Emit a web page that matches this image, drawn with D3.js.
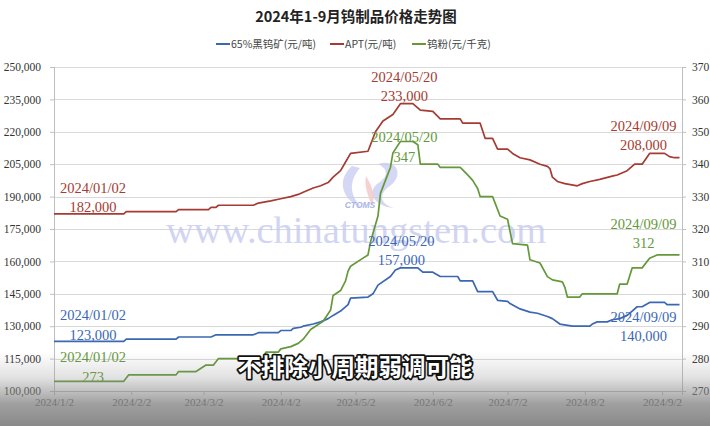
<!DOCTYPE html>
<html>
<head>
<meta charset="utf-8">
<script src="https://cdn.jsdelivr.net/npm/d3@7"></script>
<style>
html,body{margin:0;padding:0;background:#fff;}
svg{display:block;}
</style>
</head>
<body>
<div id="chart"></div>
<script>
// ---------------- data ----------------
const chartTitle = "2024年1-9月钨制品价格走势图";
const seriesNames = ["65%黑钨矿(元/吨)", "APT(元/吨)", "钨粉(元/千克)"];
const seriesColors = ["#3b67b3", "#a53b32", "#64993a"];
const xTickLabels = ["2024/1/2","2024/2/2","2024/3/2","2024/4/2","2024/5/2","2024/6/2","2024/7/2","2024/8/2","2024/9/2"];
const leftTicks = [100000,115000,130000,145000,160000,175000,190000,205000,220000,235000,250000];
const rightTicks = [270,280,290,300,310,320,330,340,350,360,370];

// 65% wolframite concentrate (yuan/ton) – left axis
const oreData = [
 ["2024-01-02",123000],["2024-01-30",123000],["2024-01-31",124000],["2024-02-20",124000],
 ["2024-02-21",125000],["2024-03-05",125000],["2024-03-07",126000],["2024-03-22",126000],
 ["2024-03-24",127000],["2024-04-01",127000],["2024-04-02",128000],["2024-04-06",128000],
 ["2024-04-07",129000],["2024-04-10",129500],["2024-04-11",130000],["2024-04-15",131000],
 ["2024-04-18",132000],["2024-04-21",133500],["2024-04-23",135000],["2024-04-26",137000],
 ["2024-04-29",140000],["2024-04-30",143000],["2024-05-07",143500],["2024-05-09",145000],
 ["2024-05-11",149000],["2024-05-16",153000],["2024-05-18",156000],["2024-05-20",157000],
 ["2024-05-27",157000],["2024-05-28",156000],["2024-05-29",155000],["2024-06-02",155000],
 ["2024-06-05",153000],["2024-06-12",153000],["2024-06-13",151000],["2024-06-18",151000],
 ["2024-06-20",146000],["2024-06-26",146000],["2024-06-28",142000],["2024-07-02",141500],
 ["2024-07-03",140500],["2024-07-07",138000],["2024-07-11",136500],["2024-07-14",136000],
 ["2024-07-18",134500],["2024-07-20",133500],["2024-07-23",131000],["2024-07-28",130000],
 ["2024-08-04",130000],["2024-08-05",131000],["2024-08-07",132000],["2024-08-11",132000],
 ["2024-08-13",133000],["2024-08-16",133500],["2024-08-19",135000],["2024-08-21",137000],
 ["2024-08-23",139000],["2024-08-25",139000],["2024-08-28",141000],["2024-09-03",141000],
 ["2024-09-04",140000],["2024-09-09",140000]
];
// APT (yuan/ton) – left axis
const aptData = [
 ["2024-01-02",182000],["2024-01-30",182000],["2024-01-31",183000],["2024-02-20",183000],
 ["2024-02-21",184000],["2024-03-04",184000],["2024-03-05",185000],["2024-03-07",185000],
 ["2024-03-08",186000],["2024-03-22",186000],["2024-03-24",187000],["2024-03-29",188000],
 ["2024-04-02",189000],["2024-04-06",190000],["2024-04-09",191000],["2024-04-11",192000],
 ["2024-04-15",194000],["2024-04-18",195000],["2024-04-21",196500],["2024-04-23",199000],
 ["2024-04-26",202000],["2024-04-28",206000],["2024-04-30",210000],["2024-05-07",211000],
 ["2024-05-08",214000],["2024-05-10",220000],["2024-05-13",225000],["2024-05-17",228000],
 ["2024-05-20",233000],["2024-05-25",233000],["2024-05-28",230000],["2024-06-02",229500],
 ["2024-06-05",226000],["2024-06-13",226000],["2024-06-14",224000],["2024-06-21",224000],
 ["2024-06-23",217000],["2024-06-26",217000],["2024-06-28",212000],["2024-07-02",212000],
 ["2024-07-04",210000],["2024-07-07",208000],["2024-07-11",207000],["2024-07-15",205000],
 ["2024-07-18",204000],["2024-07-19",203000],["2024-07-20",199000],["2024-07-22",197000],
 ["2024-07-25",196000],["2024-07-30",195000],["2024-08-01",196000],["2024-08-04",197000],
 ["2024-08-08",198000],["2024-08-13",199500],["2024-08-15",200000],["2024-08-19",202000],
 ["2024-08-22",205000],["2024-08-25",205000],["2024-08-28",210000],["2024-09-03",210000],
 ["2024-09-05",208500],["2024-09-07",208000],["2024-09-09",208000]
];
// Tungsten powder (yuan/kg) – right axis
const powderData = [
 ["2024-01-02",273],["2024-01-30",273],["2024-02-01",275],["2024-02-20",275],
 ["2024-02-21",276],["2024-02-28",276],["2024-03-01",277],["2024-03-03",278],
 ["2024-03-06",278],["2024-03-08",280],["2024-03-26",280],["2024-03-27",282],
 ["2024-04-01",282],["2024-04-02",283],["2024-04-06",283.7],["2024-04-09",284.7],
 ["2024-04-11",286],["2024-04-14",289],["2024-04-17",290.5],["2024-04-19",291.5],
 ["2024-04-22",295],["2024-04-23",299.5],["2024-04-26",301],["2024-04-28",304],
 ["2024-04-29",307],["2024-04-30",308.5],["2024-05-05",311],["2024-05-07",312],
 ["2024-05-08",316],["2024-05-11",324],["2024-05-12",331],["2024-05-15",337],
 ["2024-05-16",339],["2024-05-17",343.5],["2024-05-20",347],["2024-05-25",347],
 ["2024-05-27",346],["2024-05-28",340],["2024-06-04",340],["2024-06-05",339],
 ["2024-06-13",339],["2024-06-16",336.7],["2024-06-18",335],["2024-06-20",332.5],
 ["2024-06-21",330],["2024-06-26",330],["2024-06-29",324],["2024-07-02",323],
 ["2024-07-04",315.5],["2024-07-10",315],["2024-07-11",310.5],["2024-07-15",309.5],
 ["2024-07-18",305.3],["2024-07-20",304.3],["2024-07-24",303.7],["2024-07-25",302],
 ["2024-07-26",299],["2024-07-31",299],["2024-08-01",300],["2024-08-15",300],
 ["2024-08-16",303],["2024-08-19",303],["2024-08-21",308],["2024-08-25",308],
 ["2024-08-28",311],["2024-08-31",312],["2024-09-09",312]
];
// data labels: [series index, date, value text]
const labelPoints = [
 [0,"2024/01/02","123,000"],[0,"2024/05/20","157,000"],[0,"2024/09/09","140,000"],
 [1,"2024/01/02","182,000"],[1,"2024/05/20","233,000"],[1,"2024/09/09","208,000"],
 [2,"2024/01/02","273"],[2,"2024/05/20","347"],[2,"2024/09/09","312"]
];
const subtitleText = "不排除小周期弱调可能";
const watermarkText = "www.chinatungsten.com";

// ---------------- layout ----------------
const W = 710, H = 426;
const L = 54, R = 682, T = 67, B = 391;
const parse = d3.timeParse("%Y-%m-%d");
const parseTick = d3.timeParse("%Y/%-m/%-d");
const parseLbl = d3.timeParse("%Y/%m/%d");

const svg = d3.select("#chart").append("svg").attr("width", W).attr("height", H);
svg.append("rect").attr("width", W).attr("height", H).attr("fill", "#fff");

const x = d3.scaleTime().domain([parse("2024-01-02"), parse("2024-09-10")]).range([L, R]);
const yL = d3.scaleLinear().domain([100000, 250000]).range([B, T]);
const yR = d3.scaleLinear().domain([270, 370]).range([B, T]);

const serif = "'Liberation Serif','Times New Roman',serif";
const cjk = "'Noto Sans CJK SC','Noto Sans',sans-serif";

// gridlines
svg.append("g").selectAll("line").data(leftTicks.slice(1)).join("line")
  .attr("x1", L).attr("x2", R)
  .attr("y1", d => Math.round(yL(d)) + 0.5).attr("y2", d => Math.round(yL(d)) + 0.5)
  .attr("stroke", "#d9d9d9").attr("stroke-width", 1);

// watermark
const wm = svg.append("g");
wm.append("path")
  .attr("d", "M352,166 C336,180 342,200 362,208 C350,196 348,182 360,168 Z")
  .attr("fill", "#c3c8f0").attr("opacity", 0.7);
wm.append("path")
  .attr("d", "M378,164 C398,158 404,176 390,186 C378,194 380,204 394,208 C372,206 366,190 380,182 C390,174 386,168 378,164 Z")
  .attr("fill", "#c3c8f0").attr("opacity", 0.7);
wm.append("path")
  .attr("d", "M366,176 C372,186 376,196 372,206 C368,196 364,186 366,176 Z")
  .attr("fill", "#f3c6c6").attr("opacity", 0.8);
wm.append("text").attr("x", 360).attr("y", 208).attr("text-anchor", "middle")
  .attr("font-family", "'Liberation Sans',sans-serif").attr("font-size", 8.5)
  .attr("font-weight", "bold").attr("font-style", "italic")
  .attr("fill", "#aab4ea").text("CTOMS");
wm.append("text").attr("x", 166).attr("y", 243)
  .attr("font-family", serif).attr("font-size", 38.5)
  .attr("fill", "#c3c7ee").attr("opacity", 0.75).text(watermarkText);

// axes
const fmt = d3.format(",");
const axL = svg.append("g").attr("transform", `translate(${L},0)`)
  .call(d3.axisLeft(yL).tickValues(leftTicks).tickFormat(fmt).tickSize(4).tickPadding(9));
const axR = svg.append("g").attr("transform", `translate(${R},0)`)
  .call(d3.axisRight(yR).tickValues(rightTicks).tickSize(4).tickPadding(6));
const axB = svg.append("g").attr("transform", `translate(0,${B})`)
  .call(d3.axisBottom(x).tickValues(xTickLabels.map(parseTick))
    .tickFormat(d3.timeFormat("%Y/%-m/%-d")).tickSize(4).tickPadding(3));
[axL, axR, axB].forEach(g => {
  g.selectAll("path.domain").attr("stroke", "#bfbfbf");
  g.selectAll(".tick line").attr("stroke", "#bfbfbf");
  g.selectAll("text").attr("font-family", serif).attr("font-size", 11).attr("fill", "#333");
});
axL.selectAll("text").attr("font-size", 11.5);
axR.selectAll("text").attr("font-size", 11.5);

// lines
const allData = [oreData, aptData, powderData];
const yScales = [yL, yL, yR];
allData.forEach((data, i) => {
  const ys = yScales[i];
  const line = d3.line().x(d => x(parse(d[0]))).y(d => ys(d[1]));
  svg.append("path").datum(data).attr("d", line)
    .attr("fill", "none").attr("stroke", seriesColors[i]).attr("stroke-width", 1.7)
    .attr("stroke-linejoin", "round");
});

// data labels (offsets relative to the labelled point, as placed in the reference)
const labelOffsets = {
  "0|2024/01/02": [39, -21], "0|2024/05/20": [1, -22], "0|2024/09/09": [-36, 17],
  "1|2024/01/02": [39, -21], "1|2024/05/20": [4, -22], "1|2024/09/09": [-36, -27],
  "2|2024/01/02": [39, -19], "2|2024/05/20": [4, 0.5], "2|2024/09/09": [-36, -26]
};
const pointOf = (i, ds) => {
  const data = allData[i];
  const d = parseLbl(ds);
  const key = d3.timeFormat("%Y-%m-%d")(d);
  const p = data.find(e => e[0] === key);
  return [x(d), yScales[i](p ? p[1] : data[data.length - 1][1])];
};
labelPoints.forEach(([i, ds, val]) => {
  const [px, py] = pointOf(i, ds);
  const [dx, dy] = labelOffsets[i + "|" + ds];
  const g = svg.append("g").attr("font-family", serif).attr("font-size", 14.5)
    .attr("fill", seriesColors[i]).attr("text-anchor", "middle");
  g.append("text").attr("x", px + dx).attr("y", py + dy).text(ds);
  g.append("text").attr("x", px + dx).attr("y", py + dy + 19.5).text(val);
});

// title
svg.append("text").attr("x", 356).attr("y", 22).attr("text-anchor", "middle")
  .attr("font-family", cjk).attr("font-size", 14.5).attr("font-weight", "bold")
  .attr("fill", "#222").text(chartTitle);

// legend
const legendX = [216, 330, 412];
seriesNames.forEach((n, i) => {
  const g = svg.append("g").attr("transform", `translate(${legendX[i]},44)`);
  g.append("line").attr("x1", 0).attr("x2", 14).attr("y1", 0).attr("y2", 0)
    .attr("stroke", seriesColors[i]).attr("stroke-width", 2);
  g.append("text").attr("x", 15).attr("y", 3.8).attr("font-family", cjk)
    .attr("font-size", 10.5).attr("fill", "#444").text(n);
});

// bottom video overlay gradient
const defs = svg.append("defs");
const grad = defs.append("linearGradient").attr("id", "shade").attr("x1", 0).attr("x2", 0).attr("y1", 0).attr("y2", 1);
grad.append("stop").attr("offset", "0%").attr("stop-color", "#888").attr("stop-opacity", 0);
grad.append("stop").attr("offset", "35%").attr("stop-color", "#888").attr("stop-opacity", 0.25);
grad.append("stop").attr("offset", "70%").attr("stop-color", "#888").attr("stop-opacity", 0.8);
grad.append("stop").attr("offset", "100%").attr("stop-color", "#858585").attr("stop-opacity", 0.97);
svg.append("rect").attr("x", 0).attr("y", 352).attr("width", W).attr("height", H - 352)
  .attr("fill", "url(#shade)");

// subtitle
svg.append("text").attr("x", 355).attr("y", 376).attr("text-anchor", "middle")
  .attr("font-family", cjk).attr("font-size", 23.5).attr("font-weight", "bold")
  .attr("fill", "#fff").attr("stroke", "#111").attr("stroke-width", 3.5)
  .attr("paint-order", "stroke").attr("stroke-linejoin", "round")
  .text(subtitleText);
</script>
</body>
</html>
